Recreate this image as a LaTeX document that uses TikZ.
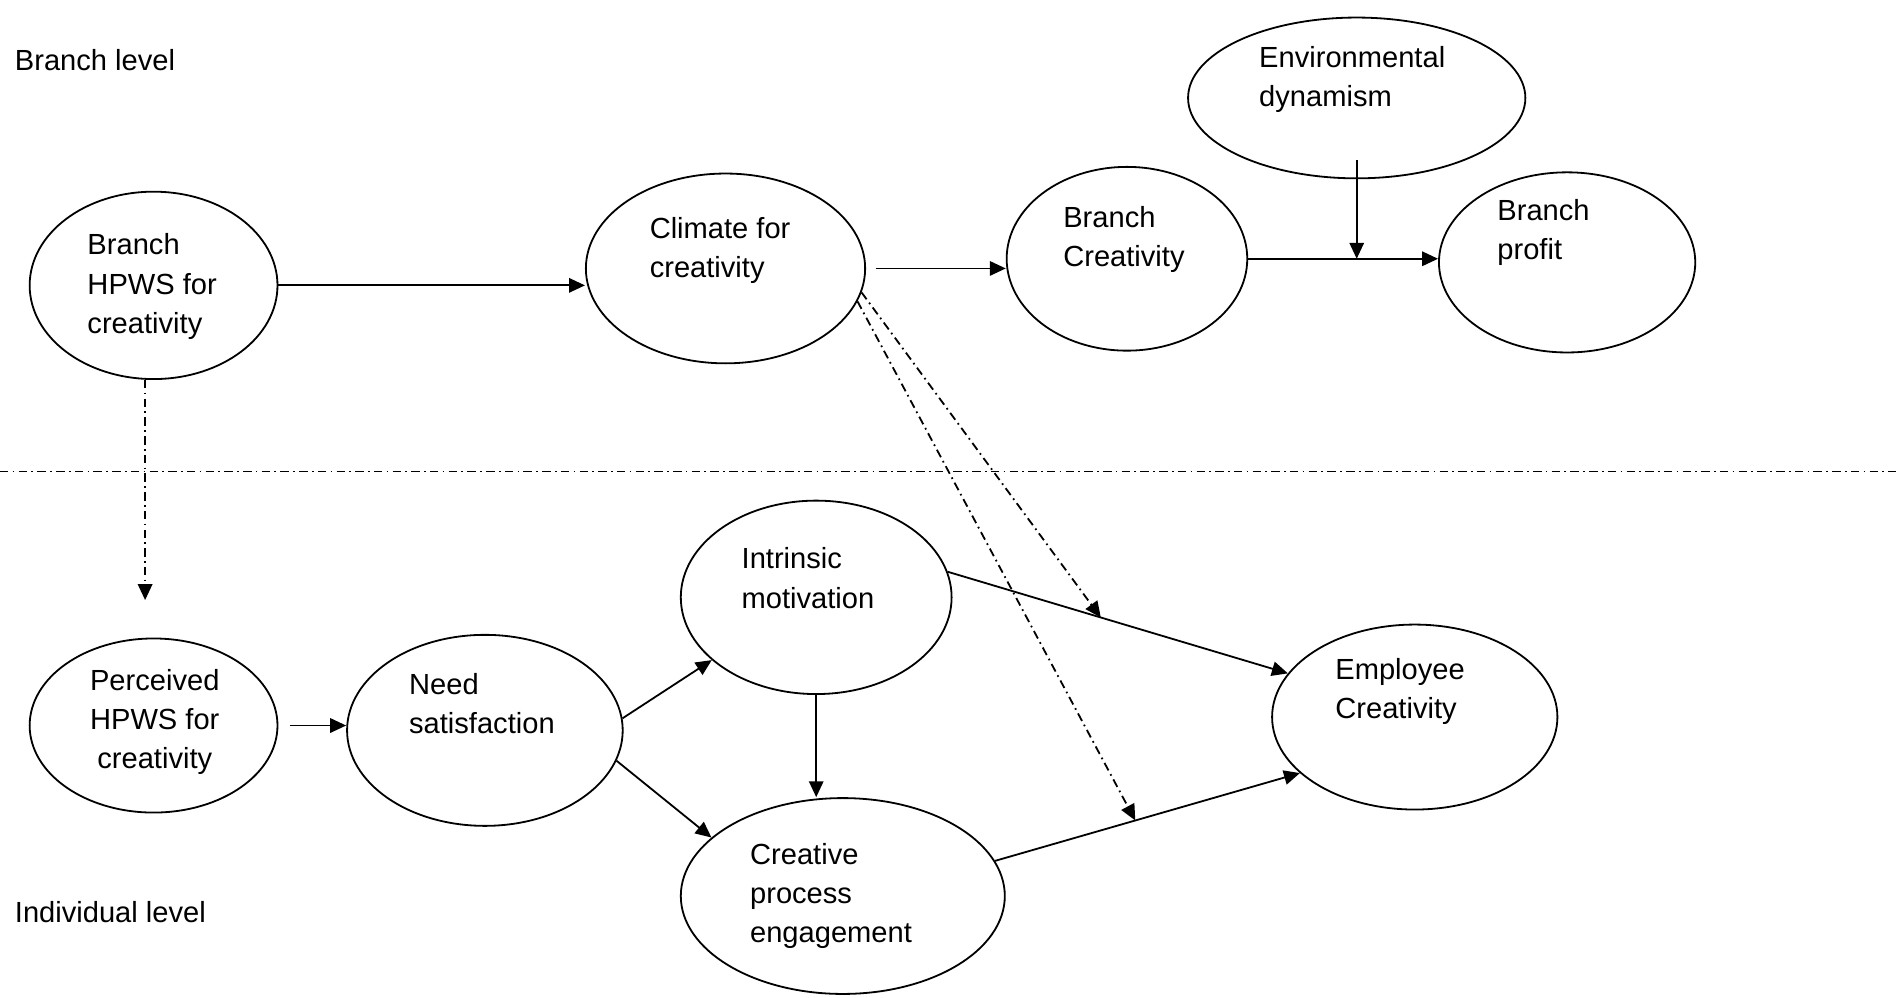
\documentclass[tikz,border=0pt]{standalone}
\usepackage{fontspec}
\setmainfont{Liberation Sans}
\usepackage{tikz}
\usetikzlibrary{shapes.geometric}
\usetikzlibrary{arrows.meta}

\begin{document}
\begin{tikzpicture}[x=0.02cm, y=-0.02cm,
	var/.style={ellipse, draw=black, line width=0.85pt, inner sep=0pt},
	txt/.style={anchor=west, inner sep=0pt, align=left, font=\fontsize{13.7pt}{18.5pt}\selectfont},
	arr/.style={-{Triangle[length=7.5pt, width=6.8pt]}, line width=0.85pt},
	dd/.style={line width=0.85pt, dash pattern=on 4pt off 2pt on 0.8pt off 2pt}]
	\useasboundingbox (0,0) rectangle (1568,825);
	% level labels
	\node[txt] (branchlvl) at (12,50) {Branch level};
	\node[txt] (indivlvl) at (12,754) {Individual level};
	% branch level
	\node[var, minimum width=4.1cm, minimum height=3.1cm] (hpws) at (127,236) {};
	\node[txt] (hpws-t) at (72,237) {Branch\\HPWS for\\creativity};
	\node[var, minimum width=4.62cm, minimum height=3.14cm] (climate) at (600,222) {};
	\node[txt] (climate-t) at (537,207) {Climate for\\creativity};
	\node[var, minimum width=3.98cm, minimum height=3.04cm] (bcreat) at (932,214) {};
	\node[txt] (bcreat-t) at (879,198) {Branch\\Creativity};
	\node[var, minimum width=5.58cm, minimum height=2.66cm] (envdyn) at (1122,81) {};
	\node[txt] (envdyn-t) at (1041,66) {Environmental\\dynamism};
	\node[var, minimum width=4.24cm, minimum height=2.98cm] (bprofit) at (1296,217) {};
	\node[txt] (bprofit-t) at (1238,192) {Branch\\profit};
	% individual level
	\node[var, minimum width=4.1cm, minimum height=2.88cm] (perceived) at (127,600) {};
	\node[txt, align=center, anchor=center] (perceived-t) at (128,597) {Perceived\\HPWS for\\creativity};
	\node[var, minimum width=4.56cm, minimum height=3.16cm] (need) at (401,604) {};
	\node[txt] (need-t) at (338,582) {Need\\satisfaction};
	\node[var, minimum width=4.48cm, minimum height=3.2cm] (intrinsic) at (675,494) {};
	\node[txt] (intrinsic-t) at (613,478) {Intrinsic\\motivation};
	\node[var, minimum width=5.36cm, minimum height=3.24cm] (cpe) at (697,741) {};
	\node[txt] (cpe-t) at (620,741) {Creative\\process\\engagement};
	\node[var, minimum width=4.72cm, minimum height=3.06cm] (ecreat) at (1170,593) {};
	\node[txt] (ecreat-t) at (1104,572) {Employee\\Creativity};
	% level line
	\coordinate (lvl0) at (0,390);
	\coordinate (lvl1) at (1568,390);
	\draw[dd] (lvl0) -- (lvl1);
	% paths
	\draw[arr] (hpws.east) -- (hpws.east -| climate.west);
	\draw[arr] ([xshift=0.16cm]climate.east) -- (climate.east -| bcreat.west);
	\draw[arr] (bcreat.east) -- (bcreat.east -| bprofit.west);
	\draw[arr] ([yshift=0.32cm]envdyn.south) -- (envdyn.south |- bcreat.east);
	\draw[arr, dd] ([xshift=-0.14cm]hpws.south) -- ([xshift=-0.14cm, yshift=0.62cm]perceived.north);
	\draw[arr] ([xshift=0.2cm]perceived.east) -- (perceived.east -| need.west);
	\draw[arr] (need.5) -- (intrinsic.211);
	\draw[arr] (need.-13) -- (cpe.156);
	\draw[arr] (intrinsic.south) -- (intrinsic.south |- cpe.north);
	\draw[arr] (intrinsic.11) -- coordinate[pos=0.45] (mod1) (ecreat.161);
	\draw[arr] (cpe.13) -- coordinate[pos=0.46] (mod2) (ecreat.206);
	\draw[arr, dd] (climate.-10) -- (mod1);
	\draw[arr, dd] (climate.-14) -- (mod2);
\end{tikzpicture}
\end{document}
